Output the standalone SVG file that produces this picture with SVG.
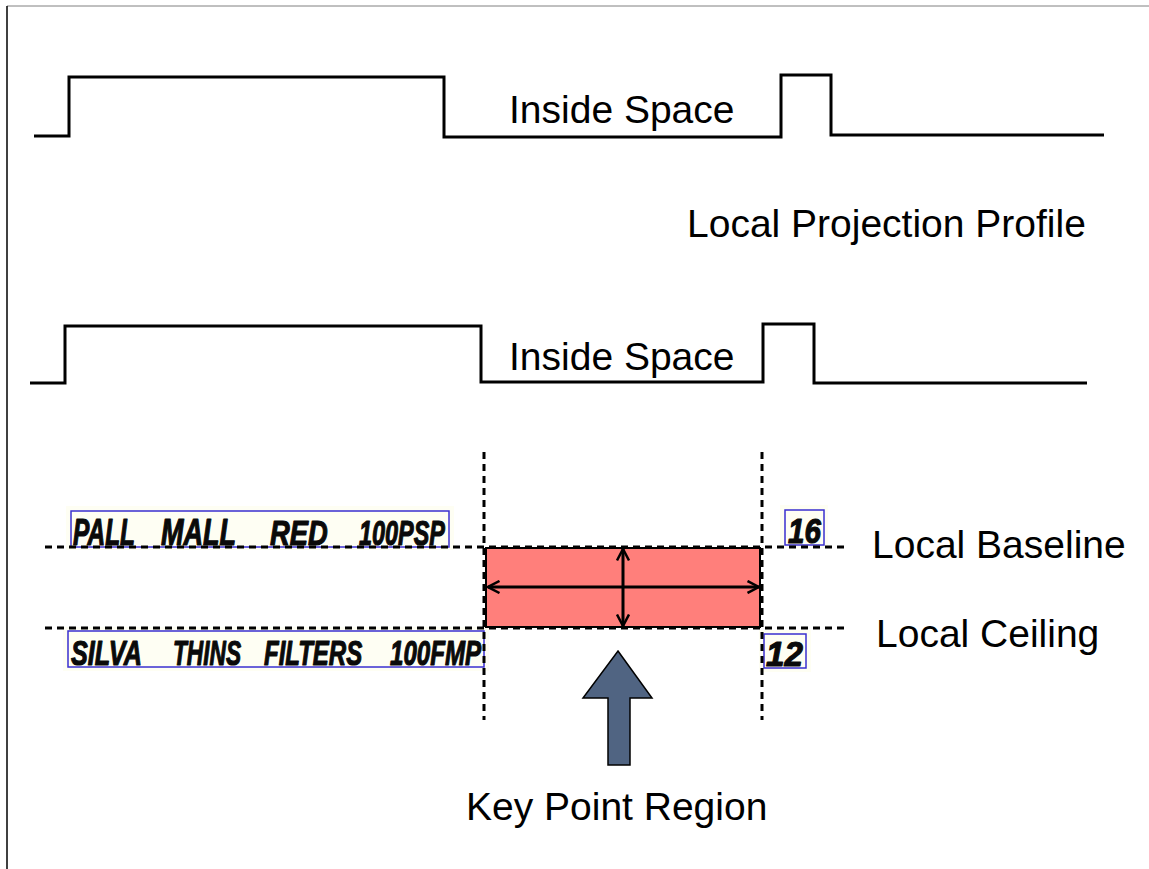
<svg xmlns="http://www.w3.org/2000/svg" width="1149" height="869" viewBox="0 0 1149 869">
  <defs>
    <style>
      .profile { fill: none; stroke: #000; stroke-width: 3; stroke-linejoin: miter; }
      .guide { fill: none; stroke: #000; stroke-width: 3; stroke-dasharray: 7 5; }
      .label { font-family: "Liberation Sans", Arial, sans-serif; font-size: 39px; fill: #000; }
      .word-box { fill: none; stroke: #3a2fd0; stroke-width: 1.5; }
      .word-bg { fill: #fefef3; }
      .hand { font-family: "Liberation Sans", Arial, sans-serif; font-size: 36px; font-weight: bold; font-style: italic; fill: #0a0a0a; stroke: #0a0a0a; stroke-width: 1.2; stroke-linejoin: round; }
      .dim { fill: none; stroke: #000; stroke-width: 3; }
    </style>
    <marker id="chev" viewBox="0 0 14 14" refX="12.5" refY="7" markerWidth="14" markerHeight="14" markerUnits="userSpaceOnUse" orient="auto-start-reverse">
      <path d="M1,1 L12.5,7 L1,13" fill="none" stroke="#000" stroke-width="2.5"/>
    </marker>
  </defs>

  <rect x="0" y="0" width="1149" height="869" fill="#fff"/>

  <!-- frame -->
  <line x1="7" y1="6" x2="1149" y2="6" stroke="#808080" stroke-width="1"/>
  <line x1="7" y1="6" x2="7" y2="869" stroke="#000" stroke-width="1.5"/>

  <!-- upper projection profile -->
  <g id="profile-top">
    <polyline class="profile" points="34,136 69,136 69,77 444,77 444,137 781,137 781,75 831,75 831,135 1104,135"/>
    <text class="label" x="509" y="123">Inside Space</text>
  </g>

  <g id="profile-caption">
    <text class="label" x="687" y="237">Local Projection Profile</text>
  </g>

  <!-- lower projection profile -->
  <g id="profile-bottom">
    <polyline class="profile" points="30,383 65,383 65,326 481,326 481,382 763,382 763,324 814,324 814,383 1087,383"/>
    <text class="label" x="509" y="370">Inside Space</text>
  </g>

  <!-- handwritten word boxes (words squeezed horizontally to fit their boxes) -->
  <g id="word-pall-mall">
    <rect class="word-bg" x="66" y="506" width="388" height="44"/>
    <rect class="word-box" x="71" y="511" width="378" height="36"/>
    <text class="hand" transform="translate(73,545) scale(0.68,1)">PALL</text>
    <text class="hand" transform="translate(161,545) scale(0.75,1)">MALL</text>
    <text class="hand" transform="translate(270,545) scale(0.76,1)">RED</text>
    <text class="hand" transform="translate(359,545) scale(0.65,1)">100PSP</text>
  </g>
  <g id="word-silva">
    <rect class="word-bg" x="63" y="627" width="426" height="44"/>
    <rect class="word-box" x="68" y="631" width="416" height="36"/>
    <text class="hand" transform="translate(71,665) scale(0.70,1)">SILVA</text>
    <text class="hand" transform="translate(173,665) scale(0.63,1)">THINS</text>
    <text class="hand" transform="translate(264,665) scale(0.667,1)">FILTERS</text>
    <text class="hand" transform="translate(390,665) scale(0.67,1)">100FMP</text>
  </g>
  <g id="word-16">
    <rect class="word-bg" x="780" y="505" width="48" height="43"/>
    <rect class="word-box" x="785" y="510" width="39" height="35"/>
    <text class="hand" transform="translate(788,543) scale(0.82,1)">16</text>
  </g>
  <g id="word-12">
    <rect class="word-bg" x="759" y="630" width="52" height="42"/>
    <rect class="word-box" x="764" y="634" width="42" height="34"/>
    <text class="hand" transform="translate(766,666) scale(0.92,1)">12</text>
  </g>

  <!-- key point region -->
  <g id="key-region">
    <rect x="486" y="548" width="274" height="79" fill="#ff7f7b" stroke="#000" stroke-width="2"/>
  </g>

  <!-- guide lines and measurement arrows -->
  <g id="connectors">
    <line class="guide" x1="45" y1="547" x2="848" y2="547"/>
    <line class="guide" x1="45" y1="628" x2="848" y2="628"/>
    <line class="guide" x1="484" y1="452" x2="484" y2="720"/>
    <line class="guide" x1="762" y1="452" x2="762" y2="720"/>
    <line class="dim" x1="488" y1="587" x2="759" y2="587" marker-start="url(#chev)" marker-end="url(#chev)"/>
    <line class="dim" x1="623" y1="549" x2="623" y2="626" marker-start="url(#chev)" marker-end="url(#chev)"/>
  </g>

  <!-- pointer arrow -->
  <g id="pointer">
    <polygon points="618,651 652,698 630,698 630,765 608,765 608,698 583,698" fill="#506482" stroke="#000" stroke-width="1.5" stroke-linejoin="miter"/>
  </g>

  <g id="baseline-label">
    <text class="label" x="872" y="558">Local Baseline</text>
  </g>
  <g id="ceiling-label">
    <text class="label" x="876" y="647">Local Ceiling</text>
  </g>
  <g id="key-label">
    <text class="label" x="466" y="820" font-size="40">Key Point Region</text>
  </g>
</svg>
